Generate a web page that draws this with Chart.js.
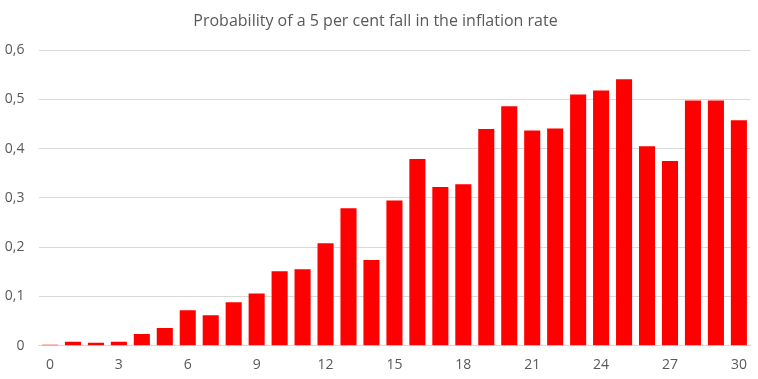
<!DOCTYPE html>
<html>
<head>
<meta charset="utf-8">
<script src="https://cdn.jsdelivr.net/npm/chart.js@4"></script>
<style>
html,body{margin:0;padding:0;background:#fff;}
#wrap{width:758px;height:379px;}
</style>
</head>
<body>
<div id="wrap"><canvas id="c" width="758" height="379"></canvas></div>
<script>
const categories = ["0","1","2","3","4","5","6","7","8","9","10","11","12","13","14","15","16","17","18","19","20","21","22","23","24","25","26","27","28","29","30"];
const probability = [0.002,0.008,0.006,0.008,0.024,0.036,0.072,0.062,0.088,0.106,0.151,0.155,0.208,0.279,0.174,0.295,0.379,0.322,0.328,0.440,0.486,0.437,0.441,0.510,0.518,0.541,0.405,0.375,0.498,0.498,0.458];
const yTicks = [0,0.1,0.2,0.3,0.4,0.5,0.6];
const titleText = "Probability of a 5 per cent fall in the inflation rate";

const FONT = "'Open Sans',sans-serif";
new Chart(document.getElementById('c'), {
  type: 'bar',
  data: {
    labels: categories,
    datasets: [{
      data: probability,
      backgroundColor: '#ff0000',
      borderWidth: 0,
      barPercentage: 0.7,
      categoryPercentage: 1.0
    }]
  },
  options: {
    responsive: false,
    animation: false,
    devicePixelRatio: 1,
    layout: { padding: { left: 0, right: 7, top: 0, bottom: 0 } },
    plugins: {
      legend: { display: false },
      tooltip: { enabled: false },
      title: {
        display: true,
        text: titleText,
        color: '#595959',
        font: { family: FONT, size: 16, weight: 'normal' },
        padding: { top: 12, bottom: 19 }
      }
    },
    scales: {
      x: {
        grid: { display: false, drawTicks: false },
        border: { display: true, color: '#d9d9d9', width: 1 },
        ticks: {
          autoSkip: false,
          maxRotation: 0,
          color: '#595959',
          font: { family: FONT, size: 14 },
          padding: 11,
          callback: function(v, i) { return i % 3 === 0 ? categories[i] : ''; }
        },
        afterFit: function(s) { s.height = 33.3; }
      },
      y: {
        min: 0,
        max: 0.6,
        afterBuildTicks: function(s) { s.ticks = yTicks.map(v => ({ value: v })); },
        grid: { color: '#d9d9d9', drawTicks: false, lineWidth: 1 },
        border: { display: false },
        ticks: {
          color: '#595959',
          font: { family: FONT, size: 14 },
          padding: 14,
          callback: function(v) { return String(v).replace('.', ','); }
        },
        afterFit: function(s) { s.width = 38.5; }
      }
    }
  }
});
</script>
</body>
</html>
